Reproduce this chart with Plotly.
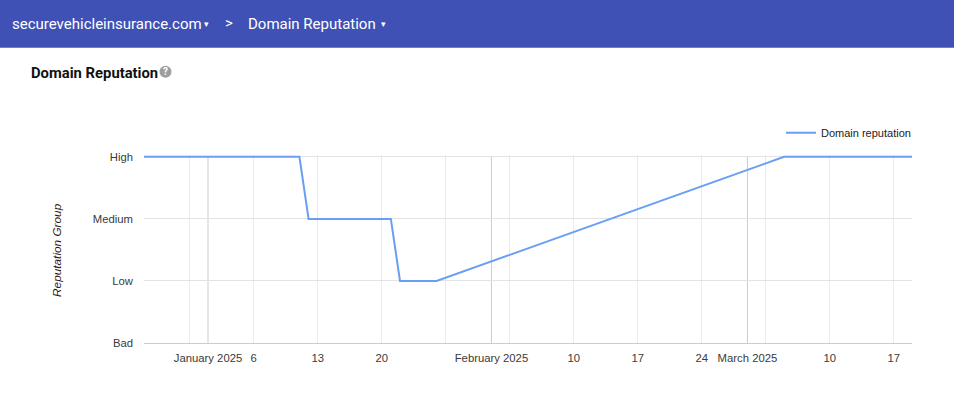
import datetime as dt
import plotly.graph_objects as go

# ---- data ----
series_name = "Domain reputation"
high_1_start, high_1_end = "2024-12-25", "2025-01-11"
med_start, med_end = "2025-01-12", "2025-01-21"
low_start, low_end = "2025-01-22", "2025-01-26"
high_2_start, high_2_end = "2025-03-05", "2025-03-19"
level_values = [0, 1, 2, 3]
level_labels = ["Bad", "Low", "Medium", "High"]
segments = [(high_1_start, high_1_end, 3), (med_start, med_end, 2),
            (low_start, low_end, 1), (high_2_start, high_2_end, 3)]

tick_dates = ["2025-01-01", "2025-01-06", "2025-01-13", "2025-01-20", "2025-02-01",
              "2025-02-10", "2025-02-17", "2025-02-24", "2025-03-01", "2025-03-10", "2025-03-17"]
tick_labels = ["January 2025", "6", "13", "20", "February 2025",
               "10", "17", "24", "March 2025", "10", "17"]
week_dates = ["2024-12-30", "2025-01-06", "2025-01-13", "2025-01-20", "2025-01-27",
              "2025-02-03", "2025-02-10", "2025-02-17", "2025-02-24", "2025-03-03",
              "2025-03-10", "2025-03-17"]
month_dates = ["2025-01-01", "2025-02-01", "2025-03-01"]
x_range = ["2024-12-25", "2025-03-19"]

dates, vals = [], []
for s, e, v in segments:
    d = dt.date.fromisoformat(s)
    end = dt.date.fromisoformat(e)
    while d <= end:
        dates.append(d.isoformat())
        vals.append(v)
        d += dt.timedelta(days=1)

# ---- layout geometry ----
W, H = 954, 393
Y_TOP = 3.03
L, R, B = 144, 912, 343
T = 157 - (Y_TOP - 3) * 62
pw, ph = R - L, B - T
def px(x): return (x - L) / pw
def py(y): return (B - y) / ph

fig = go.Figure()
fig.add_trace(go.Scatter(x=dates, y=vals, mode="lines", name=series_name,
                         line=dict(color="#6a9ef5", width=2), showlegend=True))

shapes = [dict(type="rect", xref="paper", yref="paper", x0=px(0), x1=px(W), y0=py(48), y1=py(0),
               fillcolor="#3f51b5", line=dict(width=0), layer="above")]
for m in month_dates:
    shapes.append(dict(type="line", xref="x", yref="y", x0=m, x1=m, y0=0, y1=3,
                       line=dict(color="#cccccc", width=1), layer="below"))
shapes.append(dict(type="circle", xref="paper", yref="paper", x0=px(159.5), x1=px(171.5),
                   y0=py(78), y1=py(66), fillcolor="#9e9e9e", line=dict(width=0)))

hdr_font = dict(family="Roboto", size=15, color="white")
annotations = [
    dict(text="securevehicleinsurance.com", x=px(10), y=py(24), xanchor="left", yanchor="middle",
         font=hdr_font),
    dict(text="▾", x=px(202), y=py(24), xanchor="left", yanchor="middle",
         font=dict(family="DejaVu Sans", size=9, color="white")),
    dict(text=">", x=px(229), y=py(23), xanchor="center", yanchor="middle",
         font=dict(family="Roboto", size=15, color="white")),
    dict(text="Domain Reputation", x=px(246), y=py(24), xanchor="left", yanchor="middle",
         font=hdr_font),
    dict(text="▾", x=px(379), y=py(24), xanchor="left", yanchor="middle",
         font=dict(family="DejaVu Sans", size=9, color="white")),
    dict(text="<b>Domain Reputation</b>", x=px(29), y=py(73), xanchor="left", yanchor="middle",
         font=dict(family="Roboto", size=14.8, color="#111111")),
    dict(text="<b>?</b>", x=px(165.5), y=py(72), xanchor="center", yanchor="middle",
         font=dict(family="Roboto", size=10, color="white")),
    dict(text="<i>Reputation Group</i>", x=px(57), y=py(250), xanchor="center", yanchor="middle",
         textangle=-90, font=dict(family="Liberation Sans", size=11.8, color="#331a1a")),
]
for a in annotations:
    a.update(xref="paper", yref="paper", showarrow=False)

fig.update_layout(
    width=W, height=H,
    margin=dict(l=L, r=W - R, t=T, b=H - B, autoexpand=False),
    plot_bgcolor="white", paper_bgcolor="white",
    font=dict(family="Liberation Sans", size=11.3, color="#3a3a3a"),
    shapes=shapes, annotations=annotations,
    showlegend=True,
    legend=dict(x=px(916), y=py(133), xanchor="right", yanchor="middle",
                font=dict(family="Liberation Sans", size=11, color="#222222"),
                bgcolor="rgba(0,0,0,0)", itemwidth=30),
    xaxis=dict(type="date", range=x_range, tickmode="array", tickvals=tick_dates,
               ticktext=tick_labels, showgrid=False, ticks="", showline=True,
               linecolor="#cccccc", linewidth=1, zeroline=False,
               ticklabelstandoff=4,
               minor=dict(tickmode="array", tickvals=week_dates, showgrid=True,
                          gridcolor="#ebebeb", gridwidth=1, ticks="")),
    yaxis=dict(range=[0, Y_TOP], tickmode="array", tickvals=level_values, ticktext=level_labels,
               showgrid=True, gridcolor="#e3e3e3", gridwidth=1, zeroline=False,
               showline=False, ticks="", ticklabelstandoff=10, fixedrange=True),
)

fig.write_html("out.html", config={"displayModeBar": False},
               post_script="document.body.style.margin='0';document.body.style.overflow='hidden';")
